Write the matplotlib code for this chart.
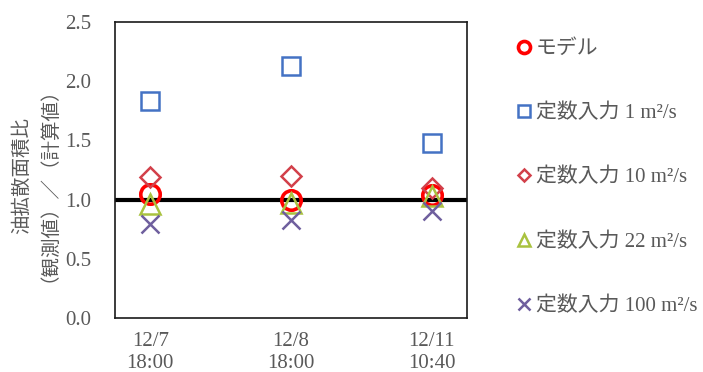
import matplotlib
matplotlib.use("Agg")
import matplotlib.pyplot as plt

# Observation times (category axis)
categories = ["12/7\n18:00", "12/8\n18:00", "12/11\n10:40"]

# Ratio of oil spread area: observed / computed
model = [1.05, 1.00, 1.04]
const_1 = [1.83, 2.13, 1.48]
const_10 = [1.19, 1.20, 1.10]
const_22 = [0.96, 0.97, 1.03]
const_100 = [0.79, 0.83, 0.90]

series_labels = ["モデル", "定数入力 1 m²/s", "定数入力 10 m²/s",
                 "定数入力 22 m²/s", "定数入力 100 m²/s"]

yticks = [0.0, 0.5, 1.0, 1.5, 2.0, 2.5]

FONTS = ["Liberation Serif", "Noto Sans CJK JP"]
TEXT_COLOR = "#595959"
plt.rcParams["font.family"] = FONTS

fig = plt.figure(figsize=(7.03, 3.72), dpi=100)
ax = fig.add_axes([0.1636, 0.1452, 0.5007, 0.7957])

x = list(range(len(categories)))

styles = [
    dict(marker="o", color="#FF0000", ms=14, mew=2.6),
    dict(marker="s", color="#4472C4", ms=13.5, mew=1.8),
    dict(marker="D", color="#D2404A", ms=10.5, mew=1.8),
    dict(marker="^", color="#A9C23F", ms=14, mew=1.8),
    dict(marker="x", color="#6F5F9E", ms=13, mew=1.8),
]
values = [model, const_1, const_10, const_22, const_100]

ax.axhline(1.0, color="black", lw=3.0, zorder=2)

handles = []
for vals, st, lab in zip(values, styles, series_labels):
    h, = ax.plot(x, vals, linestyle="none", marker=st["marker"],
                 markersize=st["ms"], markeredgewidth=st["mew"],
                 markeredgecolor=st["color"], markerfacecolor="none",
                 label=lab, zorder=3)
    handles.append(h)

ax.set_xlim(-0.25, 2.25)
ax.set_ylim(0, 2.5)
ax.set_xticks(x)
ax.set_xticklabels(categories, fontsize=15, color=TEXT_COLOR, linespacing=1.22)
ax.set_yticks(yticks)
ax.set_yticklabels([f"{v:.1f}" for v in yticks], fontsize=15, color=TEXT_COLOR)
ax.tick_params(axis="both", length=0)
ax.tick_params(axis="y", pad=17)
ax.tick_params(axis="x", pad=10)

for sp in ax.spines.values():
    sp.set_color("#1a1a1a")
    sp.set_linewidth(1.2)

ax.set_ylabel("油拡散面積比\n（観測値）／（計算値）", fontsize=14,
              color=TEXT_COLOR, linespacing=0.95)
ax.yaxis.set_label_coords(-0.188, 0.483)

leg = ax.legend(handles=handles, loc="upper left",
                bbox_to_anchor=(0.707, 0.945), bbox_transform=fig.transFigure,
                frameon=False, markerscale=0.62, handlelength=0.8,
                handletextpad=0.15, labelspacing=2.15,
                prop={"size": 15, "family": FONTS})
for t in leg.get_texts():
    t.set_color(TEXT_COLOR)

fig.savefig("out.png", dpi=100)
